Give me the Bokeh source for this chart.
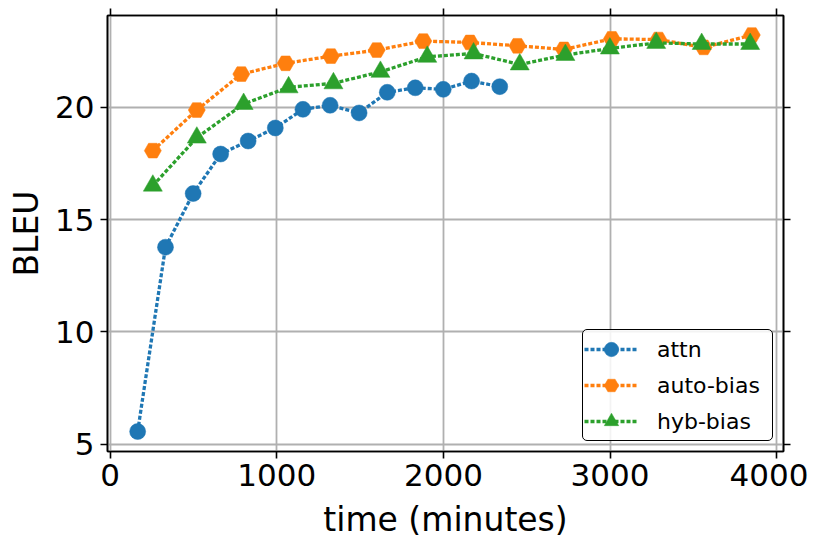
from bokeh.plotting import figure
from bokeh.models import Range1d, FixedTicker, LinearAxis, Legend, LegendItem
from bokeh.embed import file_html
from bokeh.resources import INLINE

# ---- data ----
attn_x = [165, 332, 498, 663, 828, 991, 1157, 1320, 1494, 1663, 1831, 1999, 2169, 2338]
attn_y = [5.56, 13.77, 16.16, 17.92, 18.50, 19.08, 19.91, 20.09, 19.75, 20.67, 20.87, 20.80, 21.17, 20.92]

auto_x = [256, 520, 787, 1053, 1325, 1600, 1879, 2159, 2444, 2723, 3011, 3290, 3562, 3851]
auto_y = [18.07, 19.88, 21.48, 21.96, 22.28, 22.55, 22.95, 22.89, 22.74, 22.58, 23.05, 23.02, 22.67, 23.22]

hyb_x = [256, 520, 801, 1071, 1340, 1622, 1903, 2181, 2458, 2732, 2999, 3277, 3550, 3841]
hyb_y = [16.51, 18.65, 20.15, 20.89, 21.07, 21.58, 22.25, 22.40, 21.91, 22.33, 22.62, 22.87, 22.82, 22.82]

x_ticks = [0, 1000, 2000, 3000, 4000]
y_ticks = [5, 10, 15, 20]

series_names = ["attn", "auto-bias", "hyb-bias"]
colors = ["#1f77b4", "#ff7f0e", "#2ca02c"]

FONT = "DejaVu Sans"

p = figure(
    frame_width=676, frame_height=436,
    x_range=Range1d(-16, 4041), y_range=Range1d(4.67, 24.09),
    output_backend="svg", toolbar_location=None,
    min_border_left=107, min_border_top=15, min_border_right=25, min_border_bottom=0,
)
p.background_fill_color = "white"
p.border_fill_color = "white"
p.outline_line_color = "black"
p.outline_line_width = 1.6

# main axes
for ax, ticks in ((p.xaxis[0], x_ticks), (p.yaxis[0], y_ticks)):
    ax.ticker = FixedTicker(ticks=ticks)
    ax.major_label_text_font = FONT
    ax.major_label_text_font_size = "31px"
    ax.major_label_text_color = "black"
    ax.axis_label_text_font = FONT
    ax.axis_label_text_font_size = "33px"
    ax.axis_label_text_font_style = "normal"
    ax.axis_label_text_color = "black"
    ax.axis_line_color = "black"
    ax.axis_line_width = 1.6
    ax.major_tick_line_color = "black"
    ax.major_tick_line_width = 1.6
    ax.major_tick_out = 7
    ax.major_tick_in = 0
    ax.minor_tick_line_color = None

p.xaxis[0].axis_label = "time (minutes)"
p.yaxis[0].axis_label = "BLEU"
p.xaxis[0].major_label_standoff = 5
p.xaxis[0].axis_label_standoff = 11
p.yaxis[0].major_label_standoff = 6
p.yaxis[0].axis_label_standoff = 6

# mirrored tick axes (top / right)
for loc, ticks in (("above", x_ticks), ("right", y_ticks)):
    ax = LinearAxis(ticker=FixedTicker(ticks=ticks))
    ax.major_label_overrides = {t: "" for t in ticks}
    ax.major_label_text_font_size = "0px"
    ax.major_label_standoff = 0
    ax.axis_line_color = "black"
    ax.axis_line_width = 1.6
    ax.major_tick_line_color = "black"
    ax.major_tick_line_width = 1.6
    ax.major_tick_out = 7
    ax.major_tick_in = 0
    ax.minor_tick_line_color = None
    p.add_layout(ax, loc)

p.xgrid.ticker = FixedTicker(ticks=x_ticks)
p.ygrid.ticker = FixedTicker(ticks=y_ticks)
for g in (p.xgrid[0], p.ygrid[0]):
    g.grid_line_color = "#b0b0b0"
    g.grid_line_width = 1.8

items = []
data = [(attn_x, attn_y, "circle", 16), (auto_x, auto_y, "hex", 17), (hyb_x, hyb_y, "triangle", 19)]
for (xs, ys, marker, size), name, c in zip(data, series_names, colors):
    ln = p.line(xs, ys, line_color=c, line_width=3.3, line_dash="4 2")
    sc = p.scatter(xs, ys, marker=marker, size=size, fill_color=c, line_color=c, line_width=0.5)
    items.append(LegendItem(label=name, renderers=[ln, sc]))

legend = Legend(items=items, location="bottom_right")
legend.margin = 10
legend.padding = 1
legend.spacing = 0
legend.glyph_width = 54
legend.glyph_height = 36
legend.label_height = 36
legend.label_width = 114
legend.label_standoff = 19
legend.label_text_font = FONT
legend.label_text_font_size = "22px"
legend.label_text_color = "black"
legend.border_line_color = "black"
legend.border_line_alpha = 1.0
legend.border_line_width = 1.5
legend.background_fill_color = "white"
legend.background_fill_alpha = 0.85
if "border_radius" in Legend.properties():
    legend.border_radius = 5
p.add_layout(legend, "center")

open("out.html", "w").write(file_html(p, INLINE))
